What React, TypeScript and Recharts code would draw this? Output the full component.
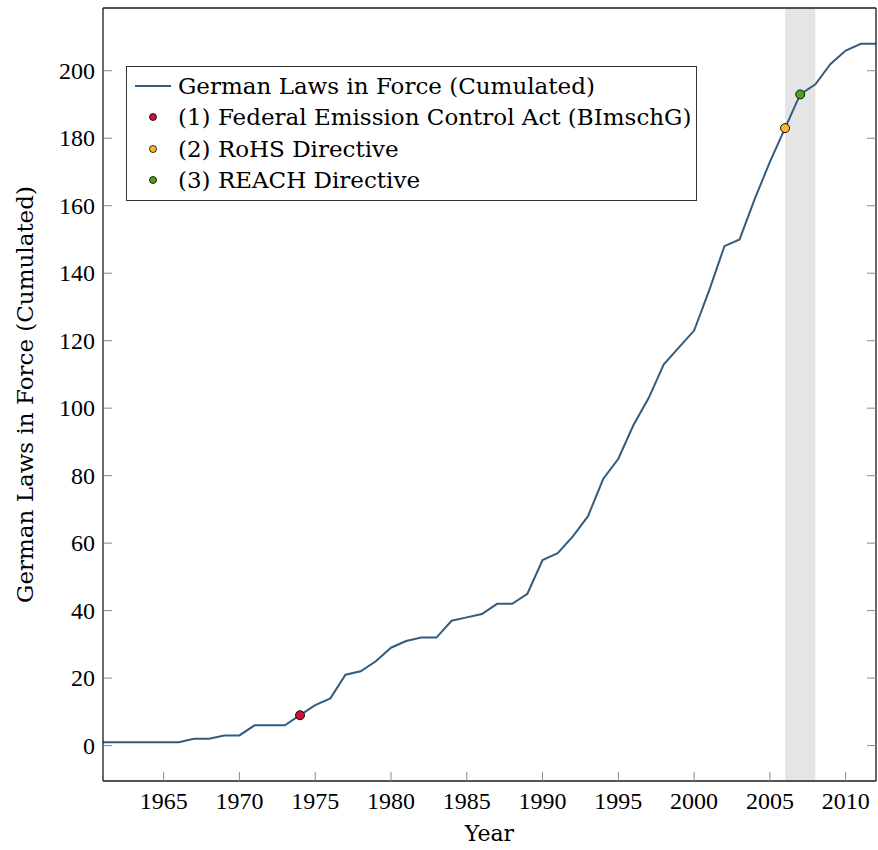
import {
  ComposedChart, Line, Scatter, XAxis, YAxis, ReferenceArea, Legend
} from "recharts";

const years = [
  1961, 1962, 1963, 1964, 1965, 1966, 1967, 1968, 1969, 1970,
  1971, 1972, 1973, 1974, 1975, 1976, 1977, 1978, 1979, 1980,
  1981, 1982, 1983, 1984, 1985, 1986, 1987, 1988, 1989, 1990,
  1991, 1992, 1993, 1994, 1995, 1996, 1997, 1998, 1999, 2000,
  2001, 2002, 2003, 2004, 2005, 2006, 2007, 2008, 2009, 2010,
  2011, 2012,
];
const lawsInForce = [
  1, 1, 1, 1, 1, 1, 2, 2, 3, 3,
  6, 6, 6, 9, 12, 14, 21, 22, 25, 29,
  31, 32, 32, 37, 38, 39, 42, 42, 45, 55,
  57, 62, 68, 79, 85, 95, 103, 113, 118, 123,
  135, 148, 150, 162, 173, 183, 193, 196, 202, 206,
  208, 208,
];

const eventLabels = [
  "(1) Federal Emission Control Act (BImschG)",
  "(2) RoHS Directive",
  "(3) REACH Directive",
];
const eventYears = [1974, 2006, 2007];
const eventColors = ["#d0103a", "#fbb434", "#4ea21b"];

const highlight = [2006, 2008];
const xTicks = [1965, 1970, 1975, 1980, 1985, 1990, 1995, 2000, 2005, 2010];
const yTicks = [0, 20, 40, 60, 80, 100, 120, 140, 160, 180, 200];

const seriesName = "German Laws in Force (Cumulated)";
const lineColor = "#335c7e";
const textFont = "'DejaVu Serif', serif";
const tickFont = "'Liberation Serif', serif";

const data = years.map((year, i) => ({ year, laws: lawsInForce[i] }));
const events = eventYears.map((year, i) => ({
  label: eventLabels[i],
  color: eventColors[i],
  points: [{ year, laws: lawsInForce[years.indexOf(year)] }],
}));

function LegendBox() {
  return (
    <div
      style={{
        boxSizing: "border-box", width: 571, height: 135,
        border: "1px solid #333", background: "#fff",
        padding: "3px 0 0 8px", fontFamily: textFont, fontSize: 23, color: "#000",
        whiteSpace: "nowrap", overflow: "hidden",
      }}
    >
      <div style={{ display: "flex", alignItems: "center", height: 31.5 }}>
        <svg width={36} height={10} style={{ marginRight: 7, flex: "none" }}>
          <line x1={0} y1={5} x2={36} y2={5} stroke={lineColor} strokeWidth={2} />
        </svg>
        <span>{seriesName}</span>
      </div>
      {events.map((e) => (
        <div key={e.label} style={{ display: "flex", alignItems: "center", height: 31.5 }}>
          <svg width={36} height={10} style={{ marginRight: 7, flex: "none" }}>
            <circle cx={18} cy={5} r={3.5} fill={e.color} stroke="#000" strokeWidth={0.8} />
          </svg>
          <span>{e.label}</span>
        </div>
      ))}
    </div>
  );
}

const axisLine = { stroke: "#1a1a1a", strokeWidth: 1.3 };
const tickLine = { stroke: "#8a8a8a", strokeWidth: 1 };

// tick labels drawn by hand so the font really sticks
const XTick = (p: any) => (
  <text x={p.x} y={p.y} dy="0.71em" textAnchor="middle" fill="#000"
    style={{ fontFamily: tickFont, fontSize: 24 }}>
    {p.payload.value}
  </text>
);
const YTick = (p: any) => (
  <text x={p.x} y={p.y} dy="0.34em" textAnchor="end" fill="#000"
    style={{ fontFamily: tickFont, fontSize: 24 }}>
    {p.payload.value}
  </text>
);

export default function App() {
  return (
    <div style={{ position: "absolute", left: 0, top: 0, width: 878, height: 850, background: "#fff" }}>
      <ComposedChart width={878} height={850} data={data} margin={{ top: 7, right: 1, bottom: 0, left: 0 }}>
        <ReferenceArea
          x1={highlight[0]} x2={highlight[1]}
          fill="#e5e5e5" fillOpacity={1} stroke="none" ifOverflow="hidden"
        />
        <XAxis
          dataKey="year" type="number" domain={[1961, 2012]} allowDataOverflow
          ticks={xTicks} height={69} axisLine={axisLine} tickLine={tickLine}
          tickSize={-9} tickMargin={20} tick={XTick}
          label={{
            value: "Year", position: "insideBottom", offset: 9, fill: "#000",
            style: { fontSize: 22, fontFamily: textFont },
          }}
        />
        <XAxis
          xAxisId="top" orientation="top" type="number" domain={[1961, 2012]} allowDataOverflow
          ticks={xTicks} height={1} axisLine={axisLine} tickLine={tickLine}
          tickSize={-9} tick={() => <g />}
        />
        <YAxis
          type="number" domain={[-10.5, 218.6]} allowDataOverflow
          ticks={yTicks} width={103} axisLine={axisLine} tickLine={tickLine}
          tickSize={-9} tickMargin={17} tick={YTick}
          label={{
            value: seriesName, angle: -90, position: "insideLeft", offset: 25, fill: "#000",
            style: { textAnchor: "middle", fontSize: 23, fontFamily: textFont },
          }}
        />
        <YAxis
          yAxisId="right" orientation="right" type="number" domain={[-10.5, 218.6]} allowDataOverflow
          ticks={yTicks} width={1} axisLine={axisLine} tickLine={tickLine}
          tickSize={-9} tick={() => <g />}
        />
        <Line
          type="linear" dataKey="laws" name={seriesName} stroke={lineColor}
          strokeWidth={2} dot={false} activeDot={false} isAnimationActive={false}
        />
        {events.map((e) => (
          <Scatter
            key={e.label} data={e.points} dataKey="laws" name={e.label}
            fill={e.color} isAnimationActive={false}
            shape={(p: any) => (
              <circle cx={p.cx} cy={p.cy} r={4.5} fill={e.color} stroke="#000" strokeWidth={0.9} />
            )}
          />
        ))}
        <Legend
          layout="horizontal" verticalAlign="middle" align="center"
          wrapperStyle={{ left: 126, top: 66, width: 571 }}
          content={() => <LegendBox />}
        />
      </ComposedChart>
    </div>
  );
}
